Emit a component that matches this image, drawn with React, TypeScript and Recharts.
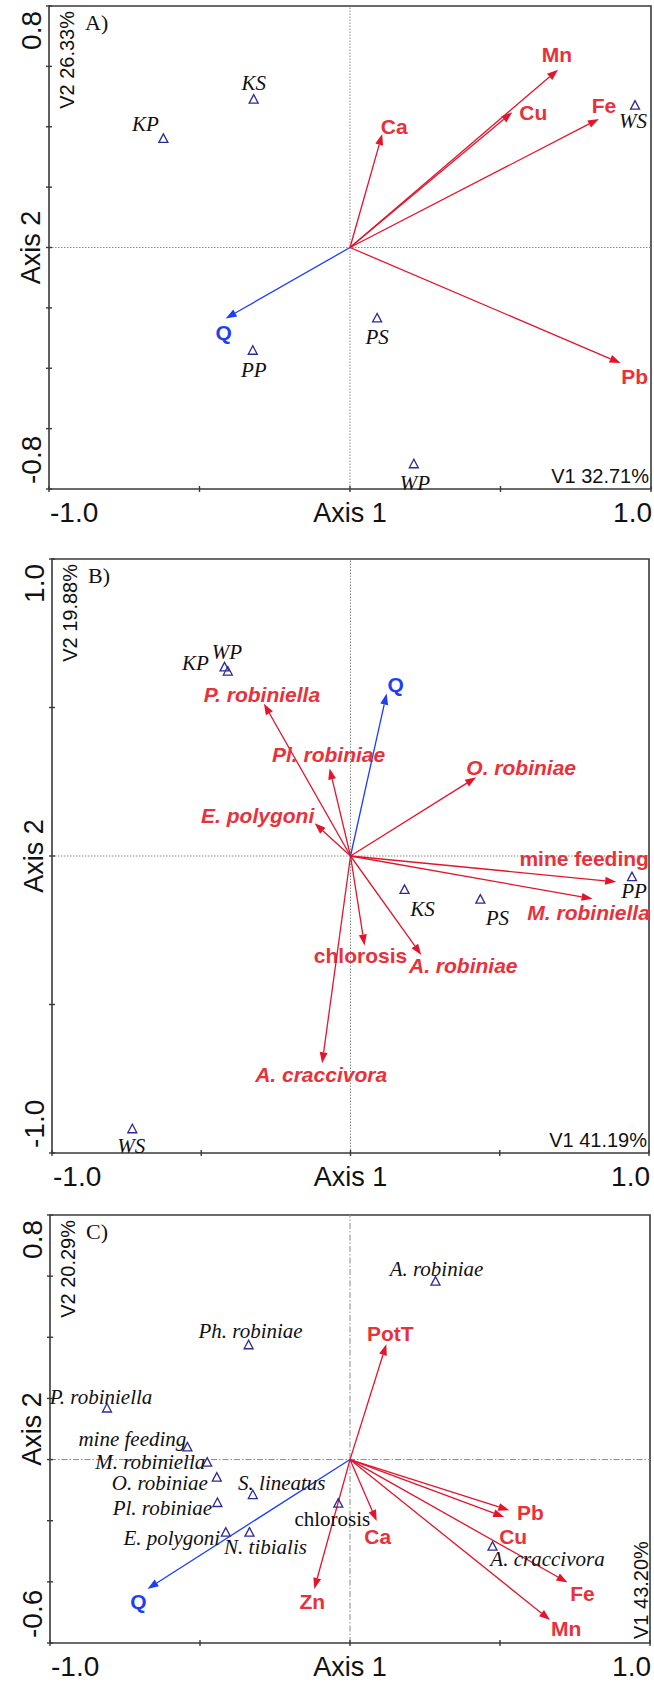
import React from "react";
import { ReferenceArea, ReferenceLine, Scatter, ScatterChart, XAxis, YAxis } from "recharts";

const SANS = "'Liberation Sans', Arial, sans-serif";
const SERIF = "'Liberation Serif', 'Times New Roman', serif";
const AXIS = "#3a3a3a";
const RED = "#e2152c";
const RED_TEXT = "#e8313b";
const BLUE = "#1e3ef2";
const NAVY = "#2d2b93";

// ---- A) sites against soil metals
const sitesA = ["KS", "KP", "WS", "PS", "PP", "WP"];
const sitesAX = [-0.32, -0.62, 0.947, 0.09, -0.323, 0.212];
const sitesAY = [0.49, 0.36, 0.47, -0.235, -0.342, -0.718];
const varsA = ["Mn", "Cu", "Fe", "Ca", "Pb"];
const varsAX = [0.691, 0.539, 0.827, 0.107, 0.899];
const varsAY = [0.589, 0.448, 0.426, 0.376, -0.383];
const qA = [-0.413, -0.235];

// ---- B) sites against insect damage
const sitesB = ["KP", "WP", "KS", "PS", "PP", "WS"];
const sitesBX = [-0.422, -0.411, 0.181, 0.435, 0.943, -0.731];
const sitesBY = [0.635, 0.621, -0.114, -0.147, -0.071, -0.92];
const speciesB = [
  "P. robiniella", "Pl. robiniae", "O. robiniae", "E. polygoni", "mine feeding",
  "M. robiniella", "chlorosis", "A. robiniae", "A. craccivora",
];
const speciesBX = [-0.29, -0.07, 0.421, -0.12, 0.89, 0.811, 0.047, 0.237, -0.095];
const speciesBY = [0.513, 0.295, 0.265, 0.11, -0.087, -0.144, -0.301, -0.333, -0.698];
const qB = [0.121, 0.547];

// ---- C) damage against soil metals
const speciesC = [
  "A. robiniae", "Ph. robiniae", "P. robiniella", "mine feeding", "M. robiniella",
  "O. robiniae", "S. lineatus", "Pl. robiniae", "chlorosis", "E. polygoni",
  "N. tibialis", "A. craccivora",
];
const speciesCX = [0.285, -0.338, -0.81, -0.542, -0.476, -0.444, -0.324, -0.442, -0.039, -0.414, -0.335, 0.475];
const speciesCY = [0.582, 0.374, 0.167, 0.04, -0.01, -0.059, -0.116, -0.142, -0.144, -0.239, -0.239, -0.285];
const varsC = ["PotT", "Pb", "Cu", "Ca", "Fe", "Mn", "Zn"];
const varsCX = [0.121, 0.531, 0.514, 0.089, 0.725, 0.667, -0.119];
const varsCY = [0.377, -0.166, -0.188, -0.201, -0.402, -0.525, -0.423];
const qC = [-0.675, -0.423];

const xTicks = [-1, -0.5, 0, 0.5, 1];
const yTicksA = [-0.8, -0.6, -0.4, -0.2, 0, 0.2, 0.4, 0.6, 0.8];
const yTicksB = [-1, -0.5, 0, 0.5, 1];
const yTicksC = [-0.6, -0.4, -0.2, 0, 0.2, 0.4, 0.6, 0.8];

// label placement (px from the point / arrow tip to label centre)
const offA: Record<string, number[]> = {
  KS: [0, -17], KP: [-18, -15], WS: [-2, 15], PS: [0, 19], PP: [1, 19], WP: [1, 19],
  Mn: [-1, -15], Cu: [21, 0], Fe: [5, -13], Ca: [12, -7], Pb: [14, 13], Q: [-2, 14],
};
const offB: Record<string, number[]> = {
  KP: [-29, -4], WP: [-1, -20], KS: [18, 19], PS: [17, 18], PP: [2, 14], WS: [-1, 17],
  "P. robiniella": [-2, -9], "Pl. robiniae": [-1, -14], "O. robiniae": [45, -10],
  "E. polygoni": [-57, -8], "mine feeding": [-32, -23], "M. robiniella": [-4, 14],
  chlorosis: [-4, 10], "A. robiniae": [42, 11], "A. craccivora": [-1, 11], Q: [9, -9],
};
const offC: Record<string, number[]> = {
  "A. robiniae": [1, -13], "Ph. robiniae": [2, -14], "P. robiniella": [-6, -12],
  "mine feeding": [-55, -8], "M. robiniella": [-57, -1], "O. robiniae": [-57, 5],
  "S. lineatus": [29, -12], "Pl. robiniae": [-55, 5], chlorosis: [-6, 15],
  "E. polygoni": [-54, 5], "N. tibialis": [16, 14], "A. craccivora": [55, 12],
  PotT: [4, -11], Pb: [21, 2], Cu: [9, 19], Ca: [1, 15], Fe: [15, 11], Mn: [16, 8],
  Zn: [-2, 13], Q: [-9, 13],
};

type Item = { name: string; x: number; y: number };
const zip = (names: string[], xs: number[], ys: number[]): Item[] =>
  names.map((name, i) => ({ name, x: xs[i], y: ys[i] }));

const arrowShape =
  (label: string, color: string, textColor: string, off: number[], italic: boolean) =>
  (p: any) => {
    const { x1, y1, x2, y2 } = p;
    const dx = x2 - x1;
    const dy = y2 - y1;
    const len = Math.hypot(dx, dy) || 1;
    const ux = dx / len;
    const uy = dy / len;
    const hl = 11;
    const hw = 4;
    const bx = x2 - ux * hl;
    const by = y2 - uy * hl;
    const head = `${x2},${y2} ${bx - uy * hw},${by + ux * hw} ${bx + uy * hw},${by - ux * hw}`;
    return (
      <g>
        <line x1={x1} y1={y1} x2={bx} y2={by} stroke={color} strokeWidth={1.3} />
        <polygon points={head} fill={color} />
        <text
          x={x2 + off[0]}
          y={y2 + off[1]}
          textAnchor="middle"
          dominantBaseline="central"
          fontFamily={SANS}
          fontWeight="bold"
          fontStyle={italic ? "italic" : "normal"}
          fontSize={21}
          fill={textColor}
        >
          {label}
        </text>
      </g>
    );
  };

const siteShape = (offsets: Record<string, number[]>, upright: string[]) => (p: any) => {
  const { cx, cy, payload } = p;
  const off = offsets[payload.name] || [0, 16];
  return (
    <g>
      <polygon
        points={`${cx},${cy - 5} ${cx - 4.5},${cy + 3.5} ${cx + 4.5},${cy + 3.5}`}
        fill="none"
        stroke={NAVY}
        strokeWidth={1.3}
      />
      <text
        x={cx + off[0]}
        y={cy + off[1]}
        textAnchor="middle"
        dominantBaseline="central"
        fontFamily={SERIF}
        fontStyle={upright.includes(payload.name) ? "normal" : "italic"}
        fontSize={21}
        fill="#111"
      >
        {payload.name}
      </text>
    </g>
  );
};

const xTick = (p: any) => {
  const { x, y, payload } = p;
  const v = payload.value;
  return (
    <g>
      <line x1={x} x2={x} y1={y - 3} y2={y + 3} stroke={AXIS} strokeWidth={1.4} />
      {(v === -1 || v === 1) && (
        <text
          x={x + 1}
          y={y + 33}
          textAnchor={v === -1 ? "start" : "end"}
          fontFamily={SANS}
          fontSize={28}
          fill="#111"
        >
          {v.toFixed(1)}
        </text>
      )}
    </g>
  );
};

const yTick = (lo: number, hi: number) => (p: any) => {
  const { x, y, payload } = p;
  const v = payload.value;
  const bx = x - 8;
  const ty = v === hi ? y + 5 : y - 5;
  return (
    <g>
      <line x1={x - 3} x2={x + 3} y1={y} y2={y} stroke={AXIS} strokeWidth={1.4} />
      {(v === lo || v === hi) && (
        <text
          x={bx}
          y={ty}
          transform={`rotate(-90 ${bx} ${ty})`}
          textAnchor={v === hi ? "end" : "start"}
          fontFamily={SANS}
          fontSize={28}
          fill="#111"
        >
          {v.toFixed(1)}
        </text>
      )}
    </g>
  );
};

const xTitle = (p: any) => {
  const vb = p.viewBox;
  return (
    <text x={vb.x + vb.width / 2} y={vb.y + 33} textAnchor="middle" fontFamily={SANS} fontSize={27} fill="#111">
      Axis 1
    </text>
  );
};

const yTitle = (p: any) => {
  const vb = p.viewBox;
  const cx = vb.x + vb.width - 9;
  const cy = vb.y + vb.height / 2;
  return (
    <text x={cx} y={cy} transform={`rotate(-90 ${cx} ${cy})`} textAnchor="middle" fontFamily={SANS} fontSize={27} fill="#111">
      Axis 2
    </text>
  );
};

const corner = (letter: string, v1: string, v2: string, v1Vertical: boolean) => (p: any) => {
  const { x, y, width, height } = p.viewBox;
  const right = x + width;
  const bottom = y + height;
  const vx = x + 25;
  const vy = y + 5;
  const rx = right - 2;
  const ry = bottom - 4;
  return (
    <g fontFamily={SANS} fontSize={20} fill="#111">
      <text x={vx} y={vy} transform={`rotate(-90 ${vx} ${vy})`} textAnchor="end">
        {v2}
      </text>
      <text x={x + 36} y={y + 24} fontFamily={SERIF} fontSize={22}>
        {letter}
      </text>
      {v1Vertical ? (
        <text x={rx} y={ry} transform={`rotate(-90 ${rx} ${ry})`} textAnchor="start">
          {v1}
        </text>
      ) : (
        <text x={right - 2} y={bottom - 6} textAnchor="end">
          {v1}
        </text>
      )}
    </g>
  );
};

interface PanelProps {
  height: number;
  top: number;
  right: number;
  yWidth: number;
  xHeight: number;
  yDomain: [number, number];
  yTicks: number[];
  points: Item[];
  arrows: Item[];
  q: number[];
  offsets: Record<string, number[]>;
  italicArrows: boolean;
  upright: string[];
  letter: string;
  v1: string;
  v2: string;
  v1Vertical?: boolean;
  zeroDash: string;
}

const Panel = (props: PanelProps) => {
  const { yDomain, offsets } = props;
  return (
    <ScatterChart
      width={654}
      height={props.height}
      margin={{ top: props.top, right: props.right, bottom: 0, left: 0 }}
    >
      <XAxis
        type="number"
        dataKey="x"
        domain={[-1, 1]}
        ticks={xTicks}
        interval={0}
        tick={xTick}
        tickLine={false}
        axisLine={false}
        tickSize={0}
        tickMargin={0}
        height={props.xHeight}
        label={{ content: xTitle }}
      />
      <YAxis
        type="number"
        dataKey="y"
        domain={yDomain}
        ticks={props.yTicks}
        interval={0}
        tick={yTick(yDomain[0], yDomain[1])}
        tickLine={false}
        axisLine={false}
        tickSize={0}
        tickMargin={0}
        width={props.yWidth}
        label={{ content: yTitle }}
      />
      <ReferenceLine x={0} stroke="#8a8a8a" strokeWidth={1} strokeDasharray={props.zeroDash} />
      <ReferenceLine y={0} stroke="#8a8a8a" strokeWidth={1} strokeDasharray={props.zeroDash} />
      <ReferenceArea
        x1={-1}
        x2={1}
        y1={yDomain[0]}
        y2={yDomain[1]}
        fill="none"
        stroke={AXIS}
        strokeWidth={1.6}
        label={{ content: corner(props.letter, props.v1, props.v2, !!props.v1Vertical) }}
      />
      {props.arrows.map((a) => (
        <ReferenceLine
          key={a.name}
          segment={[{ x: 0, y: 0 }, { x: a.x, y: a.y }]}
          stroke={RED}
          shape={arrowShape(
            a.name,
            RED,
            RED_TEXT,
            offsets[a.name] || [0, -12],
            props.italicArrows && !props.upright.includes(a.name)
          )}
        />
      ))}
      <ReferenceLine
        segment={[{ x: 0, y: 0 }, { x: props.q[0], y: props.q[1] }]}
        stroke={BLUE}
        shape={arrowShape("Q", BLUE, BLUE, offsets.Q, false)}
      />
      <Scatter
        data={props.points}
        isAnimationActive={false}
        shape={siteShape(offsets, props.upright)}
      />
    </ScatterChart>
  );
};

export default function App() {
  return (
    <div
      style={{
        position: "absolute",
        left: 0,
        top: 0,
        width: 654,
        height: 1682,
        overflow: "hidden",
        background: "#fff",
      }}
    >
      <Panel
        height={540}
        top={6}
        right={3}
        yWidth={49}
        xHeight={51}
        yDomain={[-0.8, 0.8]}
        yTicks={yTicksA}
        points={zip(sitesA, sitesAX, sitesAY)}
        arrows={zip(varsA, varsAX, varsAY)}
        q={qA}
        offsets={offA}
        italicArrows={false}
        upright={[]}
        letter="A)"
        v1="V1 32.71%"
        v2="V2 26.33%"
        zeroDash="1.5 1.5"
      />
      <Panel
        height={655}
        top={19}
        right={5}
        yWidth={52}
        xHeight={42}
        yDomain={[-1, 1]}
        yTicks={yTicksB}
        points={zip(sitesB, sitesBX, sitesBY)}
        arrows={zip(speciesB, speciesBX, speciesBY)}
        q={qB}
        offsets={offB}
        italicArrows={true}
        upright={["chlorosis", "mine feeding"]}
        letter="B)"
        v1="V1 41.19%"
        v2="V2 19.88%"
        zeroDash="1.5 1.5"
      />
      <Panel
        height={487}
        top={20}
        right={4}
        yWidth={50}
        xHeight={39}
        yDomain={[-0.6, 0.8]}
        yTicks={yTicksC}
        points={zip(speciesC, speciesCX, speciesCY)}
        arrows={zip(varsC, varsCX, varsCY)}
        q={qC}
        offsets={offC}
        italicArrows={false}
        upright={["chlorosis"]}
        letter="C)"
        v1="V1 43.20%"
        v2="V2 20.29%"
        v1Vertical
        zeroDash="6 2 1.5 2"
      />
    </div>
  );
}
